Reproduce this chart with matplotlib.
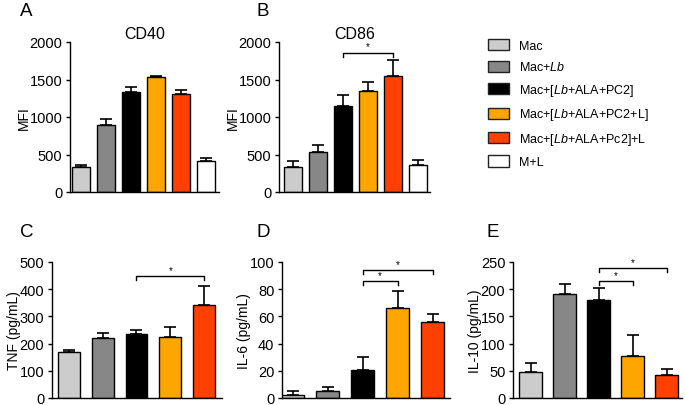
import matplotlib
matplotlib.use("Agg")
import matplotlib.pyplot as plt
from matplotlib.patches import Patch

plt.rcParams['font.family'] = ['Liberation Sans', 'DejaVu Sans']
plt.rcParams['mathtext.fontset'] = 'custom'
plt.rcParams['mathtext.rm'] = 'Liberation Sans'
plt.rcParams['mathtext.it'] = 'Liberation Sans:italic'

# ---- data ----
groups = ['Mac', 'Mac+$\\it{Lb}$', 'Mac+[$\\it{Lb}$+ALA+PC2]', 'Mac+[$\\it{Lb}$+ALA+PC2+L]',
          'Mac+[$\\it{Lb}$+ALA+Pc2]+L', 'M+L']
colors = ['#cccccc', '#878787', '#000000', '#ffa500', '#ff4000', '#ffffff']

cd40_mean = [340, 900, 1340, 1540, 1310, 410]
cd40_err = [20, 80, 55, 10, 55, 40]
cd86_mean = [330, 540, 1150, 1350, 1550, 360]
cd86_err = [90, 85, 150, 115, 210, 70]
tnf_mean = [168, 222, 237, 224, 342]
tnf_err = [7, 18, 12, 37, 70]
il6_mean = [2.5, 5.5, 20.5, 66.5, 56]
il6_err = [2.5, 2.5, 9.5, 12, 6]
il10_mean = [48, 192, 180, 78, 42]
il10_err = [17, 18, 23, 38, 11]

W, H = 685, 406
fig = plt.figure(figsize=(W / 100, H / 100), dpi=100)


def ax_px(l, r, t, b):
    return fig.add_axes([l / W, 1 - b / H, (r - l) / W, (b - t) / H])


def bars(ax, means, errs, ymax, step, xlim, width, ylabel):
    n = len(means)
    x = list(range(n))
    ax.bar(x, means, width=width, color=colors[:n], edgecolor='black', linewidth=1.0, zorder=2)
    ax.errorbar(x, means, yerr=[[0] * n, errs], fmt='none', ecolor='black',
                elinewidth=1.2, capsize=4, capthick=1.2, zorder=3)
    ax.set_ylim(0, ymax)
    ax.set_yticks(range(0, ymax + 1, step))
    ax.set_xlim(*xlim)
    ax.set_xticks([])
    for s in ['top', 'right']:
        ax.spines[s].set_visible(False)
    for s in ['left', 'bottom']:
        ax.spines[s].set_linewidth(1.0)
    ax.tick_params(axis='y', labelsize=10.5, width=1.0, length=3, pad=2.5)
    ax.set_ylabel(ylabel, fontsize=10, labelpad=-1)


def bracket(ax, x1, x2, y, tick):
    ax.plot([x1, x1, x2, x2], [y - tick, y, y, y - tick], color='black', lw=1.0, clip_on=False)
    ax.text((x1 + x2) / 2, y + tick * 0.3, '*', ha='center', va='bottom', fontsize=7)


axA = ax_px(70, 219, 43, 193)
bars(axA, cd40_mean, cd40_err, 2000, 500, (-0.44, 5.52), 0.72, 'MFI')
axA.set_title('CD40', fontsize=11.5, pad=3)

axB = ax_px(279, 430, 43, 193)
bars(axB, cd86_mean, cd86_err, 2000, 500, (-0.56, 5.48), 0.72, 'MFI')
axB.set_title('CD86', fontsize=11.5, pad=3)
bracket(axB, 2, 4, 1860, 60)

axC = ax_px(52, 222, 263, 399)
bars(axC, tnf_mean, tnf_err, 500, 100, (-0.5, 4.53), 0.65, 'TNF (pg/mL)')
bracket(axC, 2, 4, 448, 15)

axD = ax_px(282, 450, 263, 399)
bars(axD, il6_mean, il6_err, 100, 20, (-0.3, 4.49), 0.66, 'IL-6 (pg/mL)')
bracket(axD, 2, 3, 86, 3)
bracket(axD, 2, 4, 94, 3)

axE = ax_px(513, 682, 263, 399)
bars(axE, il10_mean, il10_err, 250, 50, (-0.52, 4.45), 0.66, 'IL-10 (pg/mL)')
bracket(axE, 2, 3, 215, 8)
bracket(axE, 2, 4, 239, 8)

for lab, x, y in [('A', 20, 11), ('B', 257, 11), ('C', 20, 233), ('D', 257, 233), ('E', 487, 233)]:
    fig.text(x / W, 1 - y / H, lab, fontsize=13.5, ha='left', va='center')

handles = [Patch(facecolor=c, edgecolor='#222222', linewidth=1.0) for c in colors]
fig.legend(handles, groups, loc='upper left', bbox_to_anchor=(488 / W, 1 - 40 / H),
           frameon=False, fontsize=9, handlelength=1.7, handleheight=1.0,
           labelspacing=0.68, handletextpad=0.8, borderpad=0, borderaxespad=0)

fig.savefig('out.png', dpi=100)
